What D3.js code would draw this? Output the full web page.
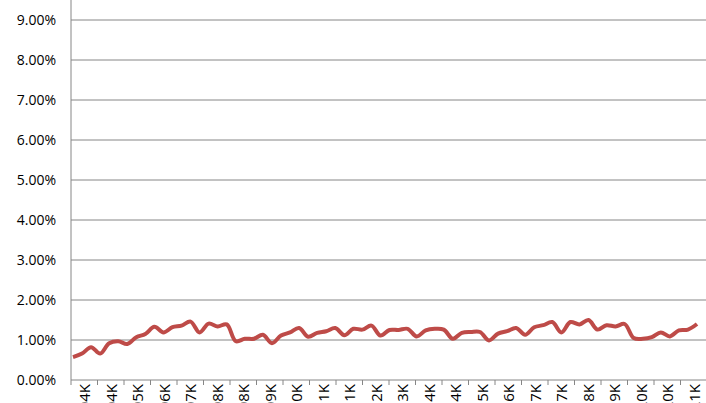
<!DOCTYPE html><html><head><meta charset="utf-8"><script src="https://cdn.jsdelivr.net/npm/d3@7"></script>
<style>body{margin:0;background:#fff}svg{display:block}text{font-family:"Open Sans","Liberation Sans",Arial,sans-serif}</style></head><body><svg id="c" width="706" height="403"></svg><script>
const categories=["104K","104K","105K","106K","107K","108K","108K","109K","110K","111K","111K","112K","113K","114K","114K","115K","116K","117K","117K","118K","119K","120K","120K","121K"];
const yTicks=[0,1,2,3,4,5,6,7,8,9,10];
const values=[0.57,0.66,0.82,0.66,0.92,0.97,0.90,1.07,1.15,1.33,1.19,1.32,1.36,1.46,1.19,1.41,1.34,1.39,0.97,1.03,1.03,1.13,0.92,1.11,1.19,1.30,1.08,1.18,1.22,1.30,1.12,1.28,1.26,1.36,1.11,1.25,1.25,1.28,1.09,1.24,1.28,1.26,1.03,1.18,1.20,1.20,0.99,1.16,1.22,1.30,1.13,1.32,1.37,1.45,1.19,1.45,1.39,1.50,1.26,1.37,1.34,1.40,1.05,1.03,1.07,1.19,1.09,1.24,1.26,1.40];
const svg=d3.select("#c");
const L=71,R=707,B=380;
const y=d3.scaleLinear().domain([0,10]).range([B,-20]);
const xb=d3.scaleBand().domain(d3.range(categories.length)).range([L,R]);
const xl=d3.scaleLinear().domain([0,values.length-1]).range([73,697]);
svg.append("g").selectAll("line").data(yTicks.slice(1)).join("line")
 .attr("x1",L).attr("x2",706).attr("y1",d=>y(d)).attr("y2",d=>y(d)).attr("stroke","#868686").attr("stroke-width",1);
svg.append("g").selectAll("text").data(yTicks).join("text")
 .attr("x",56).attr("y",d=>y(d)+5).attr("text-anchor","end").attr("font-size",14).attr("fill","#000")
 .text(d=>d.toFixed(2)+"%");
svg.append("line").attr("x1",L).attr("x2",L).attr("y1",0).attr("y2",B).attr("stroke","#868686");
svg.append("line").attr("x1",L).attr("x2",706).attr("y1",B).attr("y2",B).attr("stroke","#868686");
svg.append("g").selectAll("line").data(d3.range(categories.length+1)).join("line")
 .attr("x1",i=>L+i*xb.bandwidth()).attr("x2",i=>L+i*xb.bandwidth()).attr("y1",B).attr("y2",B+5).attr("stroke","#868686");
svg.append("g").selectAll("text").data(categories).join("text")
 .attr("transform",(d,i)=>`translate(${xb(i)+xb.bandwidth()/2+6},384) rotate(-90)`)
 .attr("text-anchor","end").attr("font-size",15).text(d=>d);
svg.append("path").datum(values)
 .attr("d",d3.line().x((d,i)=>xl(i)).y(d=>y(d)).curve(d3.curveCatmullRom))
 .attr("fill","none").attr("stroke","#be4b48").attr("stroke-width",4).attr("stroke-linejoin","round");
</script></body></html>
